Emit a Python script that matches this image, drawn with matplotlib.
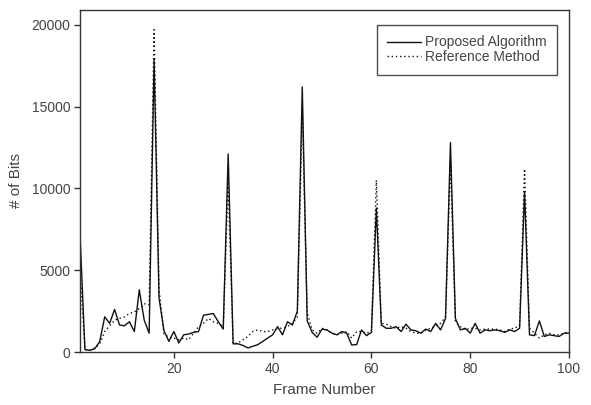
import matplotlib
matplotlib.use("Agg")
import matplotlib.pyplot as plt
import numpy as np

frames = list(range(1, 101))

proposed = [
    7200, 150, 100, 200, 650, 2150, 1750, 2600, 1650, 1600,
    1850, 1250, 3800, 1950, 1150, 17900, 3300, 1300, 650, 1250,
    550, 1050, 1100, 1200, 1250, 2250, 2300, 2350, 1850, 1400,
    12100, 500, 500, 400, 250, 350, 450, 650, 850, 1050,
    1550, 1050, 1850, 1650, 2500, 16200, 1900, 1200, 900, 1400,
    1350, 1150, 1050, 1250, 1150, 430, 450, 1350, 1000, 1200,
    8800, 1650, 1450, 1450, 1550, 1250, 1700, 1350, 1300, 1150,
    1400, 1250, 1750, 1350, 2050, 12800, 2050, 1350, 1450, 1150,
    1750, 1150, 1350, 1300, 1350, 1300, 1200, 1350, 1250, 1450,
    9800, 1050, 1000, 1900, 950, 1050, 1000, 950, 1150, 1150,
]

reference = [
    5200, 150, 100, 250, 500, 1250, 1600, 1950, 2050, 2150,
    2350, 2450, 2650, 2950, 2900, 19700, 3800, 1100, 900, 850,
    750, 850, 750, 1150, 1550, 1750, 2050, 1850, 1750, 1550,
    10400, 500, 550, 750, 950, 1250, 1350, 1250, 1250, 1350,
    1450, 1450, 1550, 1750, 2150, 14800, 2400, 1350, 1150, 1450,
    1350, 1150, 1050, 1150, 1250, 850, 1250, 1250, 1150, 1250,
    10500, 1750, 1700, 1550, 1450, 1550, 1450, 1250, 1150, 1150,
    1350, 1450, 1600, 1750, 2150, 11700, 1850, 1550, 1350, 1450,
    1450, 1350, 1400, 1400, 1400, 1350, 1250, 1400, 1450, 1650,
    11200, 1450, 1150, 850, 1050, 1150, 1050, 1050, 1150, 1250,
]

x_ticks = [20, 40, 60, 80, 100]
y_ticks = [0, 5000, 10000, 15000, 20000]

plt.rcParams['font.family'] = ['Liberation Sans', 'DejaVu Sans']

W, H = 591, 405
fig = plt.figure(figsize=(W / 100, H / 100), dpi=100)
ax = fig.add_axes([80 / W, (H - 352) / H, (569 - 80) / W, (352 - 10) / H])

ax.plot(frames, proposed, color='#111111', lw=1.0, ls='-', label='Proposed Algorithm')
ax.plot(frames, reference, color='#111111', lw=1.0, ls=(0, (1, 2)), label='Reference Method')

ax.set_xlim(1, 100)
ax.set_ylim(0, 20900)
ax.set_xticks(x_ticks)
ax.set_yticks(y_ticks)

txt = '#444444'
for s in ax.spines.values():
    s.set_color('#333333')
    s.set_linewidth(1.0)
ax.tick_params(direction='out', length=4, width=1, color='#333333',
               labelcolor=txt, labelsize=10, pad=3)

ax.set_xlabel('Frame Number', fontsize=11, color=txt, labelpad=5)
ax.set_ylabel('# of Bits', fontsize=11, color=txt, labelpad=6)

leg = ax.legend(loc='upper right', bbox_to_anchor=((557 - 80) / 489, (352 - 25) / 342),
                borderaxespad=0, fancybox=False, frameon=True, fontsize=10,
                handlelength=2.4, handletextpad=0.3, labelspacing=0.05,
                borderpad=0.75)
leg.get_frame().set_edgecolor('#222222')
leg.get_frame().set_linewidth(1.0)
for t in leg.get_texts():
    t.set_color(txt)

fig.savefig('out.png', dpi=100)
